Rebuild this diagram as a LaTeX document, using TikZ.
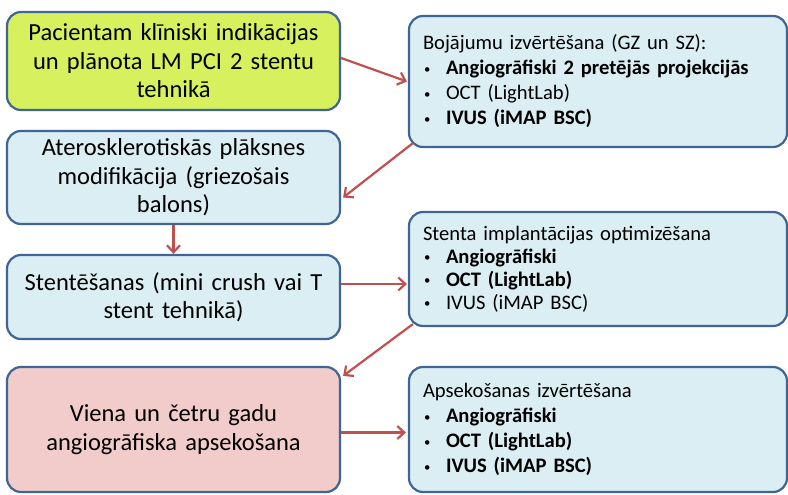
\documentclass[tikz,border=0pt]{standalone}
\usepackage{fontspec}
\setmainfont{Carlito}[WordSpace=0.85]
\usetikzlibrary{arrows.meta,calc}
\definecolor{gfill}{RGB}{215,240,93}
\definecolor{bfill}{RGB}{219,238,244}
\definecolor{rfill}{RGB}{242,203,203}
\definecolor{bord}{RGB}{63,101,148}
\definecolor{arr}{RGB}{192,80,77}
\tikzset{
  lbox/.style={draw=bord, line width=2.2pt, rounded corners=14pt, align=center,
    minimum width=333pt, text width=322pt, inner sep=0pt,
    font=\fontsize{24.5}{28.5}\selectfont},
  rbox/.style={draw=bord, line width=2.2pt, rounded corners=14pt, align=left,
    fill=bfill, minimum width=376pt, text width=350pt, inner xsep=14pt, inner ysep=0pt,
    font=\fontsize{20.6}{25}\selectfont},
  conn/.style={draw=arr, line width=2.2pt, -{Straight Barb[length=7pt,width=13pt,line width=2.2pt]}}
}
\newcommand{\itm}[1]{\makebox[23pt][l]{\hspace{1pt}\raisebox{1.5pt}{\scalebox{0.62}{\textbullet}}}#1}
\begin{document}
\begin{tikzpicture}[x=1pt,y=-1pt]
\useasboundingbox (0,0) rectangle (788,495);
% left column
\node[lbox, fill=gfill, minimum height=98pt] (b1) at (173.5,61)
  {Pacientam klīniski indikācijas\\un plānota LM PCI 2 stentu\\tehnikā};
\node[lbox, fill=bfill, minimum height=93pt] (b2) at (173.5,177.5)
  {Aterosklerotiskās plāksnes\\modifikācija (griezošais\\balons)};
\node[lbox, fill=bfill, minimum height=84pt] (b3) at (173.5,297)
  {Stentēšanas (mini crush vai T\\stent tehnikā)};
\node[lbox, fill=rfill, minimum height=125pt] (b4) at (173.5,429.5)
  {Viena un četru gadu\\angiogrāfiska apsekošana};
% right column
\node[rbox, minimum height=131pt] (r1) at (598,81.5)
  {Bojājumu izvērtēšana (GZ un SZ):\\
   \itm{\textbf{Angiogrāfiski 2 pretējās projekcijās}}\\
   \itm{OCT (LightLab)}\\
   \itm{\textbf{IVUS (iMAP BSC)}}};
\node[rbox, minimum height=114pt, font=\fontsize{20.6}{23}\selectfont] (r2) at (598,269)
  {Stenta implantācijas optimizēšana\\
   \itm{\textbf{Angiogrāfiski}}\\
   \itm{\textbf{OCT (LightLab)}}\\
   \itm{IVUS (iMAP BSC)}};
\node[rbox, minimum height=125pt] (r3) at (598,429.5)
  {Apsekošanas izvērtēšana\\
   \itm{\textbf{Angiogrāfiski}}\\
   \itm{\textbf{OCT (LightLab)}}\\
   \itm{\textbf{IVUS (iMAP BSC)}}};
% connectors
\draw[conn] ([yshift=3pt]b1.east) -- ([xshift=-1pt]r1.west);
\draw[conn] ([shift={(5pt,5pt)}]r1.south west) -- ([shift={(2pt,-20pt)}]b2.east);
\draw[conn] (b2.south) -- (b3.north);
\coordinate (s3) at ([yshift=13pt]b3.east);
\draw[conn] (s3) -- ([xshift=-1pt]s3 -| r2.west);
\draw[conn] ([shift={(5pt,3pt)}]r2.south west) -- ([shift={(2pt,-10pt)}]b4.north east);
\draw[conn] ([yshift=-3pt]b4.east) -- ([xshift=-2pt,yshift=-3pt]r3.west);
\end{tikzpicture}
\end{document}
